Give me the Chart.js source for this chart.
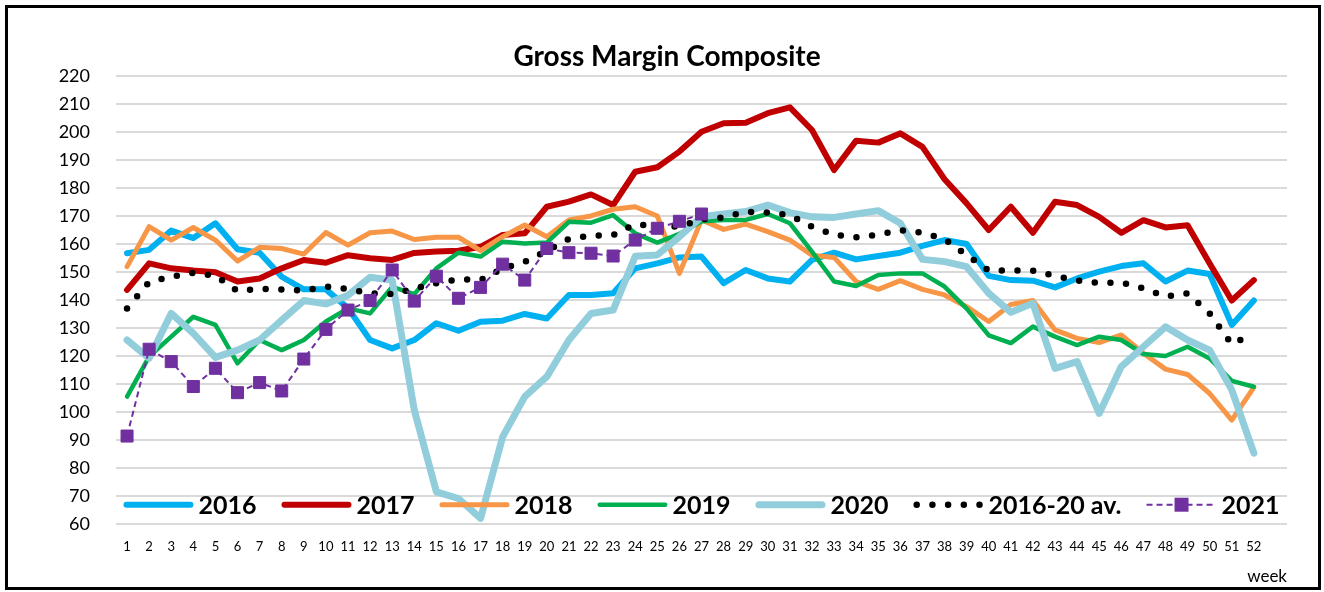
<!DOCTYPE html>
<html>
<head>
<meta charset="utf-8">
<title>Gross Margin Composite</title>
<script src="https://cdn.jsdelivr.net/npm/chart.js@4.4.0/dist/chart.umd.min.js"></script>
<style>
    html, body { margin: 0; padding: 0; background: #fff; }
    #frame {
        position: absolute; left: 5px; top: 5px;
        width: 1316px; height: 585px;
        border: 3px solid #000; box-sizing: border-box; background: #fff;
    }
    #frame canvas { display: block; }
</style>
</head>
<body>
<div id="frame"><canvas id="gmChart" width="1310" height="579"></canvas></div>
<script>
// week labels (53rd slot is empty, as in the original axis)
const weeks = ['1','2','3','4','5','6','7','8','9','10','11','12','13','14','15','16','17','18','19','20',
    '21','22','23','24','25','26','27','28','29','30','31','32','33','34','35','36','37','38','39','40',
    '41','42','43','44','45','46','47','48','49','50','51','52',''];

const y2016 = [156.6,157.8,164.7,162.0,167.3,158.0,156.8,148.2,143.7,143.7,
    137.0,125.6,122.6,125.6,131.6,128.9,132.1,132.5,134.9,133.3,
    141.7,141.7,142.3,151.2,153.0,155.1,155.4,145.9,150.6,147.6,
    146.5,154.2,156.8,154.4,155.6,156.8,159.2,161.3,159.9,148.5,
    147.0,146.8,144.4,147.6,150.0,152.0,153.0,146.5,150.4,149.2,
    131.0,139.7];
const y2017 = [143.5,153.0,151.2,150.4,149.8,146.5,147.6,151.2,154.2,153.2,
    155.9,154.8,154.2,156.7,157.2,157.5,158.9,163.1,163.7,173.2,
    175.0,177.6,173.8,185.7,187.3,192.9,200.0,203.0,203.2,206.6,
    208.7,200.6,186.3,196.8,196.1,199.4,194.6,183.0,174.4,164.9,
    173.2,163.9,175.0,173.8,169.6,163.9,168.4,165.8,166.6,152.9,
    139.7,147.0];
const y2018 = [151.8,166.1,161.3,165.8,161.3,153.8,158.7,158.3,156.3,164.0,
    159.5,163.9,164.5,161.5,162.3,162.3,157.5,162.5,166.7,162.5,
    168.5,169.9,172.3,173.2,169.9,149.4,168.5,165.1,167.0,164.3,
    161.3,155.9,155.1,146.5,143.7,146.8,143.7,141.7,137.5,132.2,
    138.3,139.7,129.2,126.2,124.7,127.4,120.9,115.2,113.3,106.5,
    97.0,108.7];
const y2019 = [105.4,119.7,126.8,133.9,131.0,117.3,125.6,122.0,125.6,132.2,
    136.9,135.1,144.6,142.0,151.2,156.8,155.4,160.7,160.1,160.4,
    167.8,167.5,170.2,163.7,160.4,163.5,168.0,168.5,168.5,170.6,
    167.3,157.2,146.5,144.9,148.8,149.4,149.4,144.7,136.8,127.3,
    124.5,130.4,126.8,123.8,126.8,125.6,120.6,119.9,123.2,119.0,
    111.0,108.9];
const y2020 = [125.6,119.1,135.1,128.0,119.4,122.0,125.6,132.7,139.7,138.5,
    141.6,148.0,147.0,100.6,71.4,69.0,61.9,91.0,105.4,112.5,
    125.6,135.1,136.3,155.5,156.0,162.5,169.6,170.6,171.5,173.8,
    171.1,169.6,169.4,170.6,171.8,167.3,154.4,153.6,151.8,142.3,
    135.5,138.7,115.5,117.9,99.4,116.1,123.2,130.3,125.6,122.0,
    107.8,85.2];
const avg1620 = [136.9,146.3,148.2,149.6,148.6,143.1,143.9,143.6,143.3,144.7,
    143.8,142.3,142.0,144.0,145.9,147.3,147.0,151.2,153.5,157.4,
    161.7,162.9,163.1,167.0,166.2,166.1,168.7,169.4,171.4,171.1,
    170.2,166.1,163.2,162.3,163.2,164.8,163.9,161.6,156.0,150.4,
    150.4,150.4,148.5,146.8,146.0,146.1,144.1,141.1,142.3,135.1,
    124.1,128.0];
const y2021 = [91.3,122.3,117.9,109.0,115.5,106.8,110.4,107.4,118.8,129.4,
    136.3,139.7,150.6,139.5,148.4,140.5,144.4,152.7,147.0,158.3,
    156.8,156.6,155.6,161.3,165.5,168.0,170.6];

const FONT = 'Lato, "Open Sans", sans-serif';
const TITLE = 'Gross Margin Composite';

// title, centred on the whole frame rather than on the padded chart box
const frameTitle = {
    id: 'frameTitle',
    afterDraw(chart) {
        const ctx = chart.ctx;
        ctx.save();
        ctx.font = 'bold 28px ' + FONT;
        ctx.fillStyle = '#000';
        ctx.textAlign = 'center';
        ctx.textBaseline = 'middle';
        ctx.fillText(TITLE, chart.width / 2 + 4, 49);
        ctx.restore();
    }
};

// legend drawn inside the plot, along the bottom, like the original
const insideLegend = {
    id: 'insideLegend',
    afterDatasetsDraw(chart) {
        const ctx = chart.ctx;
        const area = chart.chartArea;
        const y = area.bottom - 19;
        const sampleLen = 70, gap = 5, space = 25;
        ctx.save();
        ctx.font = 'bold 25px ' + FONT;
        const items = chart.data.datasets.map(ds => ({
            ds: ds,
            w: sampleLen + gap + ctx.measureText(ds.label).width
        }));
        const total = items.reduce((s, it) => s + it.w, 0) + space * (items.length - 1);
        let x = (area.left + area.right) / 2 - total / 2;

        items.forEach(it => {
            const ds = it.ds;
            const half = ds.borderCapStyle === 'round' ? ds.borderWidth / 2 : 0;
            ctx.strokeStyle = ds.borderColor;
            ctx.lineWidth = ds.borderWidth;
            ctx.lineCap = ds.borderCapStyle || 'butt';
            ctx.setLineDash(ds.borderDash || []);
            ctx.beginPath();
            ctx.moveTo(x + half, y);
            ctx.lineTo(x + sampleLen - half, y);
            ctx.stroke();
            ctx.setLineDash([]);
            if (ds.pointRadius > 0) {
                ctx.fillStyle = ds.pointBackgroundColor;
                ctx.fillRect(x + sampleLen / 2 - 7, y - 7, 14, 14);
            }
            ctx.fillStyle = '#000';
            ctx.textAlign = 'left';
            ctx.textBaseline = 'middle';
            ctx.fillText(ds.label, x + sampleLen + gap, y + 1);
            x += it.w + space;
        });
        ctx.restore();
    }
};

function lineSet(label, data, color, width, order) {
    return {
        label: label,
        data: data,
        borderColor: color,
        backgroundColor: color,
        borderWidth: width,
        borderJoinStyle: 'round',
        borderCapStyle: 'round',
        pointRadius: 0,
        tension: 0,
        order: order
    };
}

const ctx = document.getElementById('gmChart').getContext('2d');
new Chart(ctx, {
    type: 'line',
    data: {
        labels: weeks,
        datasets: [
            lineSet('2016', y2016, '#00B0F0', 6, 6),
            lineSet('2017', y2017, '#C00000', 6, 5),
            lineSet('2018', y2018, '#F79646', 5, 4),
            lineSet('2019', y2019, '#00B050', 4.5, 3),
            lineSet('2020', y2020, '#92CDDC', 7, 2),
            {
                label: '2016-20 av.',
                data: avg1620,
                borderColor: '#000000',
                backgroundColor: '#000000',
                borderWidth: 6.5,
                borderCapStyle: 'round',
                borderDash: [0, 15.7],
                pointRadius: 0,
                tension: 0,
                order: 1
            },
            {
                label: '2021',
                data: y2021,
                borderColor: '#7030A0',
                backgroundColor: '#7030A0',
                borderWidth: 2,
                borderDash: [6, 4],
                pointStyle: 'rect',
                pointRadius: 8.5,
                pointBackgroundColor: '#7030A0',
                pointBorderColor: '#7030A0',
                pointBorderWidth: 1,
                tension: 0,
                order: 0
            }
        ]
    },
    options: {
        responsive: false,
        animation: false,
        events: [],
        layout: { padding: { left: 0, right: 31, top: 67.7, bottom: 0 } },
        plugins: {
            legend: { display: false },
            tooltip: { enabled: false },
            title: { display: false }
        },
        scales: {
            x: {
                offset: true,
                grid: { display: false, drawTicks: false },
                border: { display: false },
                ticks: {
                    color: '#000',
                    font: { family: FONT, size: 13 },
                    autoSkip: false,
                    maxRotation: 0,
                    padding: 15
                },
                title: {
                    display: true,
                    text: 'week',
                    align: 'end',
                    color: '#000',
                    font: { family: FONT, size: 17 },
                    padding: 0
                },
                afterFit: (scale) => { scale.height = 63.3; }
            },
            y: {
                min: 60,
                max: 220,
                grid: { color: '#D9D9D9', lineWidth: 2, drawTicks: false },
                border: { display: false },
                ticks: {
                    stepSize: 10,
                    color: '#000',
                    font: { family: FONT, size: 18 },
                    padding: 26
                },
                afterFit: (scale) => { scale.width = 108; }
            }
        }
    },
    plugins: [insideLegend, frameTitle]
});
</script>
</body>
</html>
